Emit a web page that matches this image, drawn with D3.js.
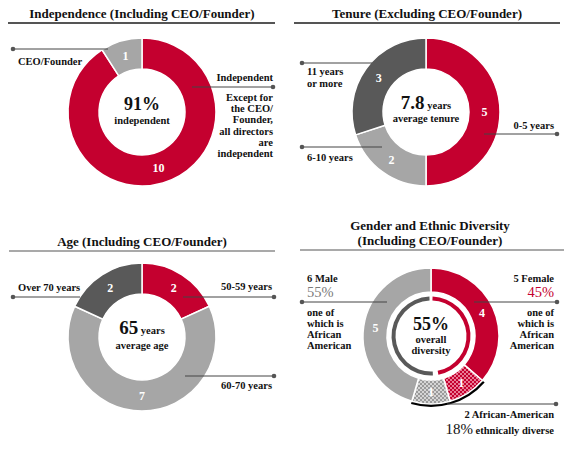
<!DOCTYPE html>
<html><head><meta charset="utf-8">
<script src="https://cdn.jsdelivr.net/npm/d3@7"></script>
<style>
body{margin:0;background:#fff;}
</style></head>
<body><svg id="c" width="574" height="450"></svg>
<script>
// ---- data ----
const indepLabels = ["Independent", "CEO/Founder"];
const indepValues = [10, 1];
const tenureLabels = ["0-5 years", "6-10 years", "11 years or more"];
const tenureValues = [5, 2, 3];
const ageLabels = ["50-59 years", "60-70 years", "Over 70 years"];
const ageValues = [2, 7, 2];
const genderLabels = ["Female", "Female African-American", "Male African-American", "Male"];
const genderValues = [4, 1, 1, 5];
const titles = ["Independence (Including CEO/Founder)", "Tenure (Excluding CEO/Founder)",
  "Age (Including CEO/Founder)", ["Gender and Ethnic Diversity", "(Including CEO/Founder)"]];

const RED = "#C4002F", DARK = "#595959", LIGHT = "#A6A6A6";
const FONT = "Liberation Serif";
const svg = d3.select("#c").attr("font-family", FONT);

// patterns
const defs = svg.append("defs");
function hatch(id, bg, fg){
  const p = defs.append("pattern").attr("id", id).attr("patternUnits","userSpaceOnUse")
    .attr("width", 4).attr("height", 4);
  p.append("rect").attr("width",4).attr("height",4).attr("fill",bg);
  p.append("path").attr("d","M0,0 L4,4 M4,0 L0,4").attr("stroke",fg).attr("stroke-width",0.8);
}
hatch("hr", RED, "#F29AAE");
hatch("hg", "#9A9A9A", "#E4E4E4");

const pie = d3.pie().sort(null).value(d => d);

function title(cx, lines, ruleY, x1, x2, rw){
  (Array.isArray(lines) ? lines : [lines]).forEach((t, i, a) => {
    svg.append("text").attr("x", cx).attr("y", ruleY - 5 - (a.length - 1 - i) * 15)
      .attr("font-family", FONT).attr("fill","#111")
      .attr("text-anchor","middle").attr("font-size",13).attr("font-weight","bold").text(t);
  });
  svg.append("line").attr("x1",x1).attr("x2",x2).attr("y1",ruleY).attr("y2",ruleY)
    .attr("stroke","#555").attr("stroke-width",rw);
}
function donut(cx, cy, values, colors, ri, ro, labelColor){
  const g = svg.append("g").attr("transform",`translate(${cx},${cy})`);
  const arc = d3.arc().innerRadius(ri).outerRadius(ro);
  const arcs = pie(values);
  g.selectAll("path").data(arcs).join("path").attr("d", arc)
    .attr("fill", (d,i) => colors[i]).attr("stroke","#fff").attr("stroke-width",1.5);
  g.selectAll("text.v").data(arcs).join("text").attr("class","v")
    .attr("transform", d => `translate(${arc.centroid(d)})`)
    .attr("text-anchor","middle").attr("dy","0.36em").attr("font-family", FONT)
    .attr("font-size",12).attr("font-weight","bold")
    .attr("fill", labelColor).text(d => d.data);
  return g;
}
function leader(x1, x2, y, dotAtLeft){
  svg.append("line").attr("x1",x1).attr("x2",x2).attr("y1",y).attr("y2",y)
    .attr("stroke","#444").attr("stroke-width",1);
  svg.append("circle").attr("cx", dotAtLeft ? x1 : x2).attr("cy", y).attr("r",2.3).attr("fill","#555");
}
function txt(x, y, s, size, anchor, opts){
  const t = svg.append("text").attr("x",x).attr("y",y).attr("font-size",size)
    .attr("font-family", FONT)
    .attr("font-weight", (opts && opts.normal) ? "normal" : "bold")
    .attr("fill", (opts && opts.fill) || "#111")
    .attr("text-anchor", anchor || "start").text(s);
  return t;
}
function bigSmall(x, y, big, bigSize, small){
  const t = svg.append("text").attr("x",x).attr("y",y).attr("text-anchor","middle")
    .attr("font-weight","bold").attr("font-family", FONT).attr("fill","#111");
  t.append("tspan").attr("font-size",bigSize).text(big);
  t.append("tspan").attr("font-size",10.5).text(" " + small);
}

// ---- 1. Independence ----
title(142, titles[0], 23, 8, 275, 2);
donut(142, 112, indepValues, [RED, LIGHT], 43, 74, "#fff");
leader(13, 108, 49, true);
txt(18, 65, indepLabels[1], 10.5);
leader(192, 273, 87, false);
txt(273, 81, indepLabels[0], 10.5, "end");
["Except for","the CEO/","Founder,","all directors","are","independent"].forEach((s,i) =>
  txt(273, 101 + i * 11.2, s, 10.5, "end"));
txt(142, 110, "91%", 18, "middle");
txt(142, 124, "independent", 10.5, "middle");

// ---- 2. Tenure ----
title(427, titles[1], 23, 294, 560, 2);
donut(426, 112, tenureValues, [RED, LIGHT, DARK], 43, 74, "#fff");
leader(302, 372, 63, true);
txt(307, 75, "11 years", 10.5);
txt(307, 87, "or more", 10.5);
leader(302, 382, 147, true);
txt(307, 161, tenureLabels[1], 10.5);
leader(484, 557, 134, false);
txt(554, 129, tenureLabels[0], 10.5, "end");
bigSmall(426, 109, "7.8", 19, "years");
txt(426, 122, "average tenure", 10.5, "middle");

// ---- 3. Age ----
title(142, titles[2], 251, 9, 275, 1.2);
donut(142, 337, ageValues, [RED, LIGHT, DARK], 43, 74, "#fff");
leader(13, 80, 297, true);
txt(18, 291, ageLabels[2], 10.5);
leader(183, 274, 297, false);
txt(272, 290, ageLabels[0], 10.5, "end");
leader(185, 274, 376, false);
txt(272, 389, ageLabels[1], 10.5, "end");
bigSmall(142, 334, "65", 19, "years");
txt(142, 349, "average age", 10.5, "middle");

// ---- 4. Gender & ethnic diversity ----
title(430, titles[3], 250, 300, 564, 1.2);
{
  const cx = 431, cy = 336;
  const gArcs = pie(genderValues);
  const under = d3.arc().innerRadius(66).outerRadius(71);
  svg.append("path").attr("transform",`translate(${cx},${cy})`)
    .attr("d", under({startAngle: gArcs[1].startAngle, endAngle: gArcs[2].endAngle}))
    .attr("fill","#000");
  donut(cx, cy, genderValues, [RED, "url(#hr)", "url(#hg)", LIGHT], 44, 68, "#fff");
  const thin = d3.arc().innerRadius(35.5).outerRadius(39.5);
  const split = Math.PI * 0.94;
  const g = svg.append("g").attr("transform",`translate(${cx},${cy})`);
  g.append("path").attr("d", thin({startAngle: 0.04, endAngle: split})).attr("fill", RED);
  g.append("path").attr("d", thin({startAngle: split + 0.14, endAngle: 2 * Math.PI - 0.04})).attr("fill", DARK);
}
txt(431, 330, "55%", 18, "middle");
txt(431, 343, "overall", 10.5, "middle");
txt(431, 354, "diversity", 10.5, "middle");

leader(302, 387, 302, true);
txt(307, 282, "6 Male", 10.5);
txt(307, 297, "55%", 14.5, "start", {normal:true, fill:"#7a7a7a"});
leader(474, 557, 302, false);
txt(554, 282, "5 Female", 10.5, "end");
txt(554, 297, "45%", 14.5, "end", {normal:true, fill:RED});
["one of","which is","African","American"].forEach((s,i) => {
  txt(307, 316 + i * 11, s, 10.5);
  txt(554, 316 + i * 11, s, 10.5, "end");
});
leader(447, 556, 404, false);
txt(554, 418, "2 African-American", 10.5, "end");
{
  const t = svg.append("text").attr("x",554).attr("y",434).attr("text-anchor","end")
    .attr("font-family", FONT).attr("fill","#111");
  t.append("tspan").attr("font-size",15).text("18%");
  t.append("tspan").attr("font-size",10.5).attr("font-weight","bold").text(" ethnically diverse");
}
</script></body></html>
